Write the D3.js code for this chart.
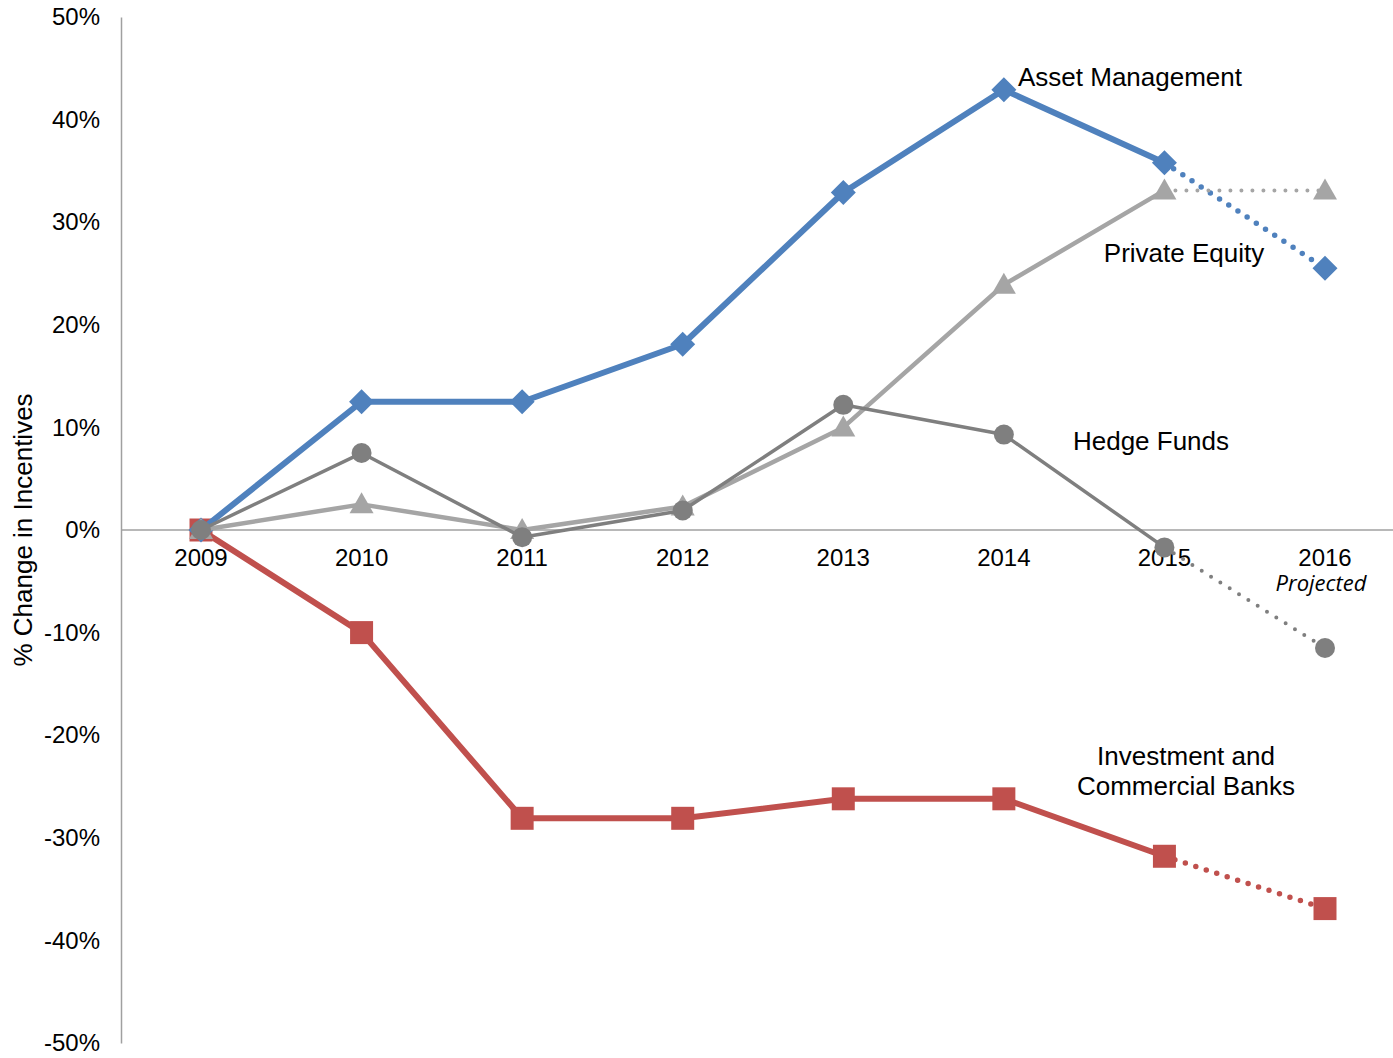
<!DOCTYPE html>
<html>
<head>
<meta charset="utf-8">
<script src="https://cdn.jsdelivr.net/npm/d3@7"></script>
<style>
  body { margin: 0; background: #fff; }
  svg { display: block; font-family: "Liberation Sans", Arial, sans-serif; }
</style>
</head>
<body>
<svg id="chart" width="1393" height="1058"></svg>
<script>
// data
const years = ["2009", "2010", "2011", "2012", "2013", "2014", "2015", "2016"];
const assetMgmt = [0, 12.5, 12.5, 18.1, 32.9, 42.9, 35.8, 25.5];
const privateEquity = [0, 2.5, 0, 2.3, 10.0, 23.9, 33.1, 33.1];
const hedgeFunds = [0, 7.5, -0.7, 1.9, 12.2, 9.3, -1.7, -11.5];
const banks = [0, -10.0, -28.1, -28.1, -26.2, -26.2, -31.8, -36.9];
const yTicks = [50, 40, 30, 20, 10, 0, -10, -20, -30, -40, -50];

const svg = d3.select('#chart');

const x = d3.scalePoint()
    .domain(years)
    .range([201, 1325]);

const y = d3.scaleLinear()
    .domain([-50, 50])
    .range([1043, 17]);

// y axis
const yAxis = svg.append('g')
    .attr('transform', 'translate(121,0)')
    .call(d3.axisLeft(y).tickValues(yTicks).tickSize(0).tickPadding(21).tickFormat(d => d + '%'));
yAxis.select('.domain').attr('stroke', '#a0a0a0').attr('stroke-width', 1.5);
yAxis.selectAll('text').attr('font-size', 24).attr('fill', '#000')
    .attr('font-family', '"Liberation Sans", Arial, sans-serif');

// x axis at zero
svg.append('line')
    .attr('x1', 121).attr('x2', 1393)
    .attr('y1', y(0)).attr('y2', y(0))
    .attr('stroke', '#a0a0a0').attr('stroke-width', 1.5);

svg.append('g').selectAll('text')
    .data(years)
    .join('text')
    .attr('x', d => x(d))
    .attr('y', y(0) + 36)
    .attr('text-anchor', 'middle')
    .attr('font-size', 24)
    .text(d => d);

svg.append('text')
    .attr('x', 1321).attr('y', 591)
    .attr('text-anchor', 'middle')
    .attr('font-family', '"Open Sans", "Noto Sans", sans-serif')
    .attr('font-style', 'italic')
    .attr('font-size', 22)
    .text('Projected');

// y axis title
svg.append('text')
    .attr('transform', 'translate(32,' + y(0) + ') rotate(-90)')
    .attr('text-anchor', 'middle')
    .attr('font-size', 26)
    .text('% Change in Incentives');

const series = [
  { name: 'banks', values: banks, color: '#c0504d', width: 6, marker: 'square' },
  { name: 'asset', values: assetMgmt, color: '#4f81bd', width: 6, marker: 'diamond' },
  { name: 'pe', values: privateEquity, color: '#a5a5a5', width: 4.5, marker: 'triangle' },
  { name: 'hf', values: hedgeFunds, color: '#7f7f7f', width: 3.5, marker: 'circle' }
];

const line = d3.line()
    .x(d => x(d.year))
    .y(d => y(d.value));

function markerPath(type) {
  if (type === 'square') return 'M-11.5,-11.5H11.5V11.5H-11.5Z';
  if (type === 'diamond') return 'M0,-12.5L12.5,0L0,12.5L-12.5,0Z';
  if (type === 'triangle') return 'M0,-12L12,9H-12Z';
  return d3.symbol(d3.symbolCircle, Math.PI * 10 * 10)();
}

series.forEach(s => {
  const pts = years.map((yr, i) => ({ year: yr, value: s.values[i] }));
  const g = svg.append('g').attr('class', s.name);
  // solid part through 2015
  g.append('path')
      .datum(pts.slice(0, 7))
      .attr('d', line)
      .attr('fill', 'none')
      .attr('stroke', s.color)
      .attr('stroke-width', s.width)
      .attr('stroke-linejoin', 'round');
  // projected part, dotted
  g.append('path')
      .datum(pts.slice(6))
      .attr('d', line)
      .attr('fill', 'none')
      .attr('stroke', s.color)
      .attr('stroke-width', Math.max(s.width - 0.5, 4))
      .attr('stroke-linecap', 'round')
      .attr('stroke-dasharray', '0 11');
  g.selectAll('path.mark')
      .data(pts)
      .join('path')
      .attr('class', 'mark')
      .attr('transform', d => 'translate(' + x(d.year) + ',' + y(d.value) + ')')
      .attr('d', markerPath(s.marker))
      .attr('fill', s.color);
});

// series labels
const labels = [
  { text: ['Asset Management'], x: 1018, y: 86, anchor: 'start' },
  { text: ['Private Equity'], x: 1184, y: 262, anchor: 'middle' },
  { text: ['Hedge Funds'], x: 1151, y: 450, anchor: 'middle' },
  { text: ['Investment and', 'Commercial Banks'], x: 1186, y: 765, anchor: 'middle' }
];

labels.forEach(l => {
  const t = svg.append('text')
      .attr('x', l.x).attr('y', l.y)
      .attr('text-anchor', l.anchor)
      .attr('font-size', 26);
  l.text.forEach((s, i) => {
    t.append('tspan').attr('x', l.x).attr('dy', i === 0 ? 0 : 30).text(s);
  });
});
</script>
</body>
</html>
